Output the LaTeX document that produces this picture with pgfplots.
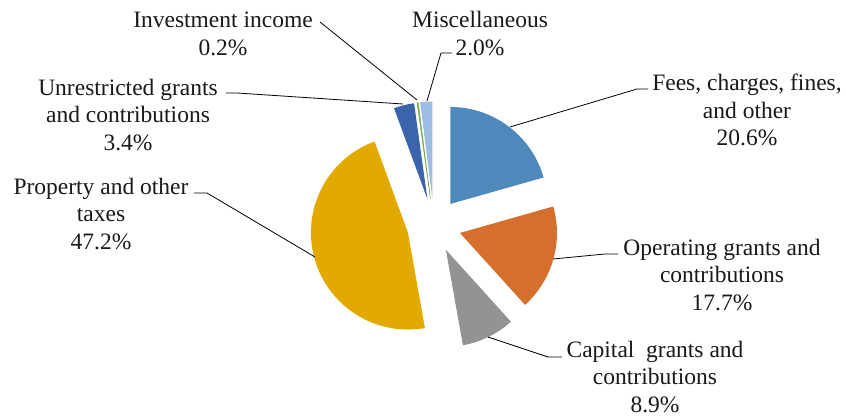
\documentclass[border=0pt]{standalone}
\usepackage{fontspec}
\setmainfont{Liberation Serif}
\usepackage{pgfplots}
\pgfplotsset{compat=1.18}
\definecolor{cFees}{RGB}{79,137,188}
\definecolor{cOper}{RGB}{212,111,45}
\definecolor{cCap}{RGB}{147,147,147}
\definecolor{cProp}{RGB}{226,170,0}
\definecolor{cUnr}{RGB}{60,100,172}
\definecolor{cInv}{RGB}{112,173,71}
\definecolor{cMisc}{RGB}{157,189,228}
\tikzset{lbl/.style={font=\fontsize{23.5}{27.8}\selectfont, align=center, text=black!90, inner sep=0pt}}
% slice: colour, cumulative start (%), cumulative end (%)
% centre of pie (434,192.5), explosion 27, radius 97, angles clockwise from top
\newcommand{\slice}[4][draw=none]{%
  \addplot[fill=#2, #1, domain=#3*3.6:#4*3.6, samples=80, variable=\t]
   ({434+27*sin((#3+#4)*1.8)+97*sin(\t)}, {192.5+27*cos((#3+#4)*1.8)+97*cos(\t)})
   -- (axis cs:{434+27*sin((#3+#4)*1.8)},{192.5+27*cos((#3+#4)*1.8)}) -- cycle;
}
\begin{document}
\begin{tikzpicture}
\begin{axis}[hide axis, scale only axis, width=846pt, height=418pt,
  xmin=0, xmax=846, ymin=0, ymax=418, clip=false]
% shares: 20.6, 17.7, 8.9, 47.2, 3.4, 0.2, 2.0
\slice{cFees}{0}{20.6}
\slice{cOper}{20.6}{38.3}
\slice{cCap}{38.3}{47.2}
\slice{cProp}{47.2}{94.4}
\slice{cUnr}{94.4}{97.8}
\slice[draw=cInv, line width=0.4pt]{cInv}{97.8}{98.0}
\slice{cMisc}{98.0}{100}
% leader lines
\addplot[black, line width=0.8pt] coordinates {(320,396) (417,318)};
\addplot[black, line width=0.8pt] coordinates {(452,365) (441,365) (427,317)};
\addplot[black, line width=0.8pt] coordinates {(648,329) (637,329) (510,291)};
\addplot[black, line width=0.8pt] coordinates {(226,325) (237,325) (403,314)};
\addplot[black, line width=0.8pt] coordinates {(194,225) (207,225) (315,161)};
\addplot[black, line width=0.8pt] coordinates {(553,159) (605,164) (618,164)};
\addplot[black, line width=0.8pt] coordinates {(488,81) (548,61) (562,61)};
% labels
\node[lbl] at (axis cs:223,384.5) {Investment income\\0.2\%};
\node[lbl] at (axis cs:480,384.5) {Miscellaneous\\2.0\%};
\node[lbl] at (axis cs:747,308) {Fees, charges, fines,\\and other\\20.6\%};
\node[lbl] at (axis cs:128,303) {Unrestricted grants\\and contributions\\3.4\%};
\node[lbl] at (axis cs:101,204) {Property and other\\taxes\\47.2\%};
\node[lbl] at (axis cs:722,143) {Operating grants and\\contributions\\17.7\%};
\node[lbl] at (axis cs:655,41) {Capital\ \ grants and\\contributions\\8.9\%};
\end{axis}
\path (current axis.south west) rectangle (current axis.north east);
\end{tikzpicture}
\end{document}
